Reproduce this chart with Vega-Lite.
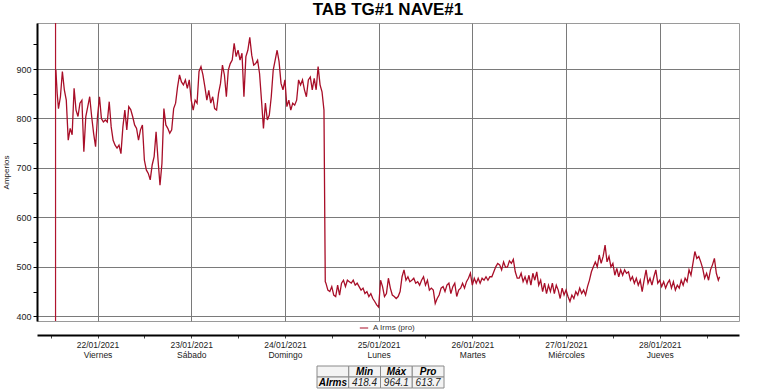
{
  "$schema": "https://vega.github.io/schema/vega-lite/v6.json",
  "padding": {"left": 2, "top": 0, "right": 0, "bottom": 0},
  "background": "white",
  "spacing": 6,
  "config": {"font": "Liberation Sans", "view": {"stroke": null}},
  "datasets": {
    "marker": [{"t": "2021-01-21T13:15"}],
    "table": [
      {"r": "h", "c": "c0", "txt": ""},
      {"r": "h", "c": "c1", "txt": "Min"},
      {"r": "h", "c": "c2", "txt": "Máx"},
      {"r": "h", "c": "c3", "txt": "Pro"},
      {"r": "d", "c": "c0", "txt": "AIrms"},
      {"r": "d", "c": "c1", "txt": "418.4"},
      {"r": "d", "c": "c2", "txt": "964.1"},
      {"r": "d", "c": "c3", "txt": "613.7"}
    ],
    "series": [
      {"t":"2021-01-21T13:20","v":898},{"t":"2021-01-21T13:40","v":851},{"t":"2021-01-21T14:00","v":820},{"t":"2021-01-21T14:30","v":844},
      {"t":"2021-01-21T15:00","v":895},{"t":"2021-01-21T15:30","v":858},{"t":"2021-01-21T16:00","v":837},{"t":"2021-01-21T16:30","v":756},
      {"t":"2021-01-21T17:00","v":780},{"t":"2021-01-21T17:30","v":767},{"t":"2021-01-21T18:00","v":861},{"t":"2021-01-21T18:30","v":817},
      {"t":"2021-01-21T19:00","v":804},{"t":"2021-01-21T19:30","v":831},{"t":"2021-01-21T20:00","v":837},{"t":"2021-01-21T20:30","v":733},
      {"t":"2021-01-21T21:00","v":804},{"t":"2021-01-21T21:30","v":824},{"t":"2021-01-21T22:00","v":844},{"t":"2021-01-21T22:30","v":804},
      {"t":"2021-01-21T23:00","v":770},{"t":"2021-01-21T23:30","v":743},{"t":"2021-01-22T00:00","v":804},{"t":"2021-01-22T00:30","v":844},
      {"t":"2021-01-22T01:00","v":800},{"t":"2021-01-22T01:30","v":793},{"t":"2021-01-22T02:00","v":797},{"t":"2021-01-22T02:30","v":793},
      {"t":"2021-01-22T03:00","v":834},{"t":"2021-01-22T03:30","v":783},{"t":"2021-01-22T04:00","v":756},{"t":"2021-01-22T04:30","v":746},
      {"t":"2021-01-22T05:00","v":740},{"t":"2021-01-22T05:30","v":746},{"t":"2021-01-22T06:00","v":729},{"t":"2021-01-22T06:30","v":783},
      {"t":"2021-01-22T07:00","v":817},{"t":"2021-01-22T07:30","v":777},{"t":"2021-01-22T08:00","v":824},{"t":"2021-01-22T08:30","v":818},
      {"t":"2021-01-22T09:00","v":804},{"t":"2021-01-22T09:30","v":787},{"t":"2021-01-22T10:00","v":780},{"t":"2021-01-22T10:30","v":756},
      {"t":"2021-01-22T11:00","v":777},{"t":"2021-01-22T11:30","v":787},{"t":"2021-01-22T12:00","v":716},{"t":"2021-01-22T12:30","v":696},
      {"t":"2021-01-22T13:00","v":689},{"t":"2021-01-22T13:30","v":676},{"t":"2021-01-22T14:00","v":706},{"t":"2021-01-22T14:30","v":723},
      {"t":"2021-01-22T15:00","v":773},{"t":"2021-01-22T15:30","v":716},{"t":"2021-01-22T16:00","v":665},{"t":"2021-01-22T16:30","v":709},
      {"t":"2021-01-22T17:00","v":820},{"t":"2021-01-22T17:30","v":787},{"t":"2021-01-22T18:00","v":780},{"t":"2021-01-22T18:30","v":770},
      {"t":"2021-01-22T19:00","v":777},{"t":"2021-01-22T19:30","v":820},{"t":"2021-01-22T20:00","v":831},{"t":"2021-01-22T20:30","v":864},
      {"t":"2021-01-22T21:00","v":888},{"t":"2021-01-22T21:30","v":874},{"t":"2021-01-22T22:00","v":868},{"t":"2021-01-22T22:30","v":878},
      {"t":"2021-01-22T23:00","v":861},{"t":"2021-01-22T23:30","v":878},{"t":"2021-01-23T00:00","v":837},{"t":"2021-01-23T00:30","v":817},
      {"t":"2021-01-23T01:00","v":837},{"t":"2021-01-23T01:30","v":831},{"t":"2021-01-23T02:00","v":895},{"t":"2021-01-23T02:30","v":905},
      {"t":"2021-01-23T03:00","v":888},{"t":"2021-01-23T03:30","v":864},{"t":"2021-01-23T04:00","v":837},{"t":"2021-01-23T04:30","v":857},
      {"t":"2021-01-23T05:00","v":831},{"t":"2021-01-23T05:30","v":844},{"t":"2021-01-23T06:00","v":820},{"t":"2021-01-23T06:30","v":817},
      {"t":"2021-01-23T07:00","v":851},{"t":"2021-01-23T07:30","v":871},{"t":"2021-01-23T08:00","v":908},{"t":"2021-01-23T08:30","v":888},
      {"t":"2021-01-23T09:00","v":844},{"t":"2021-01-23T09:30","v":898},{"t":"2021-01-23T10:00","v":911},{"t":"2021-01-23T10:30","v":918},
      {"t":"2021-01-23T11:00","v":952},{"t":"2021-01-23T11:30","v":925},{"t":"2021-01-23T12:00","v":938},{"t":"2021-01-23T12:30","v":918},
      {"t":"2021-01-23T13:00","v":932},{"t":"2021-01-23T13:30","v":844},{"t":"2021-01-23T14:00","v":925},{"t":"2021-01-23T14:30","v":938},
      {"t":"2021-01-23T15:00","v":964.1},{"t":"2021-01-23T15:30","v":928},{"t":"2021-01-23T16:00","v":908},{"t":"2021-01-23T16:30","v":911},
      {"t":"2021-01-23T17:00","v":918},{"t":"2021-01-23T17:30","v":891},{"t":"2021-01-23T18:00","v":837},{"t":"2021-01-23T18:30","v":780},
      {"t":"2021-01-23T19:00","v":831},{"t":"2021-01-23T19:30","v":797},{"t":"2021-01-23T20:00","v":807},{"t":"2021-01-23T20:30","v":844},
      {"t":"2021-01-23T21:00","v":898},{"t":"2021-01-23T21:30","v":918},{"t":"2021-01-23T22:00","v":938},{"t":"2021-01-23T22:30","v":915},
      {"t":"2021-01-23T23:00","v":871},{"t":"2021-01-23T23:30","v":858},{"t":"2021-01-24T00:00","v":878},{"t":"2021-01-24T00:30","v":824},
      {"t":"2021-01-24T01:00","v":837},{"t":"2021-01-24T01:30","v":817},{"t":"2021-01-24T02:00","v":831},{"t":"2021-01-24T02:30","v":827},
      {"t":"2021-01-24T03:00","v":837},{"t":"2021-01-24T03:30","v":878},{"t":"2021-01-24T04:00","v":868},{"t":"2021-01-24T04:30","v":878},
      {"t":"2021-01-24T05:00","v":858},{"t":"2021-01-24T05:30","v":844},{"t":"2021-01-24T06:00","v":878},{"t":"2021-01-24T06:30","v":884},
      {"t":"2021-01-24T07:00","v":858},{"t":"2021-01-24T07:30","v":881},{"t":"2021-01-24T08:00","v":858},{"t":"2021-01-24T08:30","v":905},
      {"t":"2021-01-24T09:00","v":868},{"t":"2021-01-24T09:30","v":854},{"t":"2021-01-24T10:00","v":817},{"t":"2021-01-24T10:20","v":470},
      {"t":"2021-01-24T10:30","v":467},{"t":"2021-01-24T11:00","v":453},{"t":"2021-01-24T11:30","v":450},{"t":"2021-01-24T12:00","v":460},
      {"t":"2021-01-24T12:30","v":443},{"t":"2021-01-24T13:00","v":440},{"t":"2021-01-24T13:30","v":463},{"t":"2021-01-24T14:00","v":443},
      {"t":"2021-01-24T14:30","v":467},{"t":"2021-01-24T15:00","v":473},{"t":"2021-01-24T15:30","v":460},{"t":"2021-01-24T16:00","v":473},
      {"t":"2021-01-24T16:30","v":470},{"t":"2021-01-24T17:00","v":467},{"t":"2021-01-24T17:30","v":473},{"t":"2021-01-24T18:00","v":463},
      {"t":"2021-01-24T18:30","v":467},{"t":"2021-01-24T19:00","v":460},{"t":"2021-01-24T19:30","v":453},{"t":"2021-01-24T20:00","v":457},
      {"t":"2021-01-24T20:30","v":446},{"t":"2021-01-24T21:00","v":450},{"t":"2021-01-24T21:30","v":440},{"t":"2021-01-24T22:00","v":446},
      {"t":"2021-01-24T22:30","v":436},{"t":"2021-01-24T23:00","v":430},{"t":"2021-01-24T23:30","v":423},{"t":"2021-01-25T00:00","v":418.4},
      {"t":"2021-01-25T00:30","v":473},{"t":"2021-01-25T01:00","v":460},{"t":"2021-01-25T01:30","v":440},{"t":"2021-01-25T02:00","v":446},
      {"t":"2021-01-25T02:30","v":477},{"t":"2021-01-25T03:00","v":457},{"t":"2021-01-25T03:30","v":443},{"t":"2021-01-25T04:00","v":440},
      {"t":"2021-01-25T04:30","v":436},{"t":"2021-01-25T05:00","v":440},{"t":"2021-01-25T05:30","v":450},{"t":"2021-01-25T06:00","v":480},
      {"t":"2021-01-25T06:30","v":494},{"t":"2021-01-25T07:00","v":473},{"t":"2021-01-25T07:30","v":480},{"t":"2021-01-25T08:00","v":470},
      {"t":"2021-01-25T08:30","v":473},{"t":"2021-01-25T09:00","v":477},{"t":"2021-01-25T09:30","v":467},{"t":"2021-01-25T10:00","v":470},
      {"t":"2021-01-25T10:30","v":463},{"t":"2021-01-25T11:00","v":473},{"t":"2021-01-25T11:30","v":480},{"t":"2021-01-25T12:00","v":463},
      {"t":"2021-01-25T12:30","v":473},{"t":"2021-01-25T13:00","v":453},{"t":"2021-01-25T13:30","v":457},{"t":"2021-01-25T14:00","v":453},
      {"t":"2021-01-25T14:30","v":426},{"t":"2021-01-25T15:00","v":436},{"t":"2021-01-25T15:30","v":443},{"t":"2021-01-25T16:00","v":457},
      {"t":"2021-01-25T16:30","v":460},{"t":"2021-01-25T17:00","v":450},{"t":"2021-01-25T17:30","v":463},{"t":"2021-01-25T18:00","v":467},
      {"t":"2021-01-25T18:30","v":446},{"t":"2021-01-25T19:00","v":460},{"t":"2021-01-25T19:30","v":467},{"t":"2021-01-25T20:00","v":440},
      {"t":"2021-01-25T20:30","v":453},{"t":"2021-01-25T21:00","v":457},{"t":"2021-01-25T21:30","v":467},{"t":"2021-01-25T22:00","v":457},
      {"t":"2021-01-25T22:30","v":470},{"t":"2021-01-25T23:00","v":477},{"t":"2021-01-25T23:30","v":487},{"t":"2021-01-26T00:00","v":463},
      {"t":"2021-01-26T00:30","v":477},{"t":"2021-01-26T01:00","v":467},{"t":"2021-01-26T01:30","v":477},{"t":"2021-01-26T02:00","v":467},
      {"t":"2021-01-26T02:30","v":477},{"t":"2021-01-26T03:00","v":473},{"t":"2021-01-26T03:30","v":480},{"t":"2021-01-26T04:00","v":473},
      {"t":"2021-01-26T04:30","v":480},{"t":"2021-01-26T05:00","v":480},{"t":"2021-01-26T05:30","v":490},{"t":"2021-01-26T06:00","v":500},
      {"t":"2021-01-26T06:30","v":507},{"t":"2021-01-26T07:00","v":504},{"t":"2021-01-26T07:30","v":494},{"t":"2021-01-26T08:00","v":510},
      {"t":"2021-01-26T08:30","v":499},{"t":"2021-01-26T09:00","v":500},{"t":"2021-01-26T09:30","v":512},{"t":"2021-01-26T10:00","v":507},
      {"t":"2021-01-26T10:30","v":515},{"t":"2021-01-26T11:00","v":490},{"t":"2021-01-26T11:30","v":477},{"t":"2021-01-26T12:00","v":477},
      {"t":"2021-01-26T12:30","v":487},{"t":"2021-01-26T13:00","v":470},{"t":"2021-01-26T13:30","v":480},{"t":"2021-01-26T14:00","v":467},
      {"t":"2021-01-26T14:30","v":483},{"t":"2021-01-26T15:00","v":463},{"t":"2021-01-26T15:30","v":487},{"t":"2021-01-26T16:00","v":473},
      {"t":"2021-01-26T16:30","v":490},{"t":"2021-01-26T17:00","v":463},{"t":"2021-01-26T17:30","v":473},{"t":"2021-01-26T18:00","v":450},
      {"t":"2021-01-26T18:30","v":467},{"t":"2021-01-26T19:00","v":446},{"t":"2021-01-26T19:30","v":463},{"t":"2021-01-26T20:00","v":450},
      {"t":"2021-01-26T20:30","v":467},{"t":"2021-01-26T21:00","v":446},{"t":"2021-01-26T21:30","v":463},{"t":"2021-01-26T22:00","v":453},
      {"t":"2021-01-26T22:30","v":436},{"t":"2021-01-26T23:00","v":457},{"t":"2021-01-26T23:30","v":443},{"t":"2021-01-27T00:00","v":453},
      {"t":"2021-01-27T00:30","v":440},{"t":"2021-01-27T01:00","v":430},{"t":"2021-01-27T01:30","v":443},{"t":"2021-01-27T02:00","v":436},
      {"t":"2021-01-27T02:30","v":450},{"t":"2021-01-27T03:00","v":443},{"t":"2021-01-27T03:30","v":457},{"t":"2021-01-27T04:00","v":446},
      {"t":"2021-01-27T04:30","v":453},{"t":"2021-01-27T05:00","v":443},{"t":"2021-01-27T05:30","v":460},{"t":"2021-01-27T06:00","v":473},
      {"t":"2021-01-27T06:30","v":490},{"t":"2021-01-27T07:00","v":500},{"t":"2021-01-27T07:30","v":510},{"t":"2021-01-27T08:00","v":500},
      {"t":"2021-01-27T08:30","v":524},{"t":"2021-01-27T09:00","v":507},{"t":"2021-01-27T09:30","v":521},{"t":"2021-01-27T10:00","v":544},
      {"t":"2021-01-27T10:30","v":510},{"t":"2021-01-27T11:00","v":521},{"t":"2021-01-27T11:30","v":500},{"t":"2021-01-27T12:00","v":507},
      {"t":"2021-01-27T12:30","v":483},{"t":"2021-01-27T13:00","v":497},{"t":"2021-01-27T13:30","v":480},{"t":"2021-01-27T14:00","v":494},
      {"t":"2021-01-27T14:30","v":483},{"t":"2021-01-27T15:00","v":494},{"t":"2021-01-27T15:30","v":487},{"t":"2021-01-27T16:00","v":490},
      {"t":"2021-01-27T16:30","v":473},{"t":"2021-01-27T17:00","v":480},{"t":"2021-01-27T17:30","v":467},{"t":"2021-01-27T18:00","v":477},
      {"t":"2021-01-27T18:30","v":463},{"t":"2021-01-27T19:00","v":473},{"t":"2021-01-27T19:30","v":450},{"t":"2021-01-27T20:00","v":473},
      {"t":"2021-01-27T20:30","v":494},{"t":"2021-01-27T21:00","v":467},{"t":"2021-01-27T21:30","v":477},{"t":"2021-01-27T22:00","v":463},
      {"t":"2021-01-27T22:30","v":480},{"t":"2021-01-27T23:00","v":494},{"t":"2021-01-27T23:30","v":467},{"t":"2021-01-28T00:00","v":473},
      {"t":"2021-01-28T00:30","v":460},{"t":"2021-01-28T01:00","v":470},{"t":"2021-01-28T01:30","v":457},{"t":"2021-01-28T02:00","v":467},
      {"t":"2021-01-28T02:30","v":473},{"t":"2021-01-28T03:00","v":457},{"t":"2021-01-28T03:30","v":470},{"t":"2021-01-28T04:00","v":453},
      {"t":"2021-01-28T04:30","v":463},{"t":"2021-01-28T05:00","v":457},{"t":"2021-01-28T05:30","v":473},{"t":"2021-01-28T06:00","v":463},
      {"t":"2021-01-28T06:30","v":477},{"t":"2021-01-28T07:00","v":470},{"t":"2021-01-28T07:30","v":494},{"t":"2021-01-28T08:00","v":483},
      {"t":"2021-01-28T08:30","v":507},{"t":"2021-01-28T09:00","v":531},{"t":"2021-01-28T09:30","v":517},{"t":"2021-01-28T10:00","v":521},
      {"t":"2021-01-28T10:30","v":510},{"t":"2021-01-28T11:00","v":497},{"t":"2021-01-28T11:30","v":477},{"t":"2021-01-28T12:00","v":487},
      {"t":"2021-01-28T12:30","v":473},{"t":"2021-01-28T13:00","v":494},{"t":"2021-01-28T13:30","v":504},{"t":"2021-01-28T14:00","v":517},
      {"t":"2021-01-28T14:30","v":487},{"t":"2021-01-28T15:00","v":473},{"t":"2021-01-28T15:20","v":480}
    ]
  },
  "vconcat": [
    {
      "width": 702,
      "height": 298,
      "title": {"text": "TAB TG#1 NAVE#1", "fontSize": 17, "fontWeight": "bold", "font": "Liberation Sans", "color": "#000", "anchor": "middle", "offset": 3},
      "view": {"stroke": "#9a9a9a"},
      "layer": [
        {
          "data": {"name": "marker"},
          "mark": {"type": "rule", "color": "#b0142e", "strokeWidth": 1.2},
          "encoding": {"x": {"field": "t", "type": "temporal"}}
        },
        {
          "data": {"name": "series"},
          "mark": {"type": "line", "strokeWidth": 1.3, "clip": true},
          "encoding": {
            "x": {
              "field": "t", "type": "temporal",
              "scale": {"domain": [{"year": 2021, "month": 1, "date": 21, "hours": 8, "minutes": 30}, {"year": 2021, "month": 1, "date": 28, "hours": 20, "minutes": 18}]},
              "axis": {
                "values": [
                  {"year": 2021, "month": 1, "date": 21, "hours": 12},
                  {"year": 2021, "month": 1, "date": 22, "hours": 0},
                  {"year": 2021, "month": 1, "date": 22, "hours": 12},
                  {"year": 2021, "month": 1, "date": 23, "hours": 0},
                  {"year": 2021, "month": 1, "date": 23, "hours": 12},
                  {"year": 2021, "month": 1, "date": 24, "hours": 0},
                  {"year": 2021, "month": 1, "date": 24, "hours": 12},
                  {"year": 2021, "month": 1, "date": 25, "hours": 0},
                  {"year": 2021, "month": 1, "date": 25, "hours": 12},
                  {"year": 2021, "month": 1, "date": 26, "hours": 0},
                  {"year": 2021, "month": 1, "date": 26, "hours": 12},
                  {"year": 2021, "month": 1, "date": 27, "hours": 0},
                  {"year": 2021, "month": 1, "date": 27, "hours": 12},
                  {"year": 2021, "month": 1, "date": 28, "hours": 0},
                  {"year": 2021, "month": 1, "date": 28, "hours": 12}
                ],
                "offset": 14,
                "grid": true,
                "gridColor": "#7a7a7a",
                "gridOpacity": {"condition": {"test": "hours(datum.value) == 12", "value": 0}, "value": 1},
                "domainColor": "#000",
                "domainWidth": 2,
                "tickColor": "#444",
                "tickSize": 3,
                "labelExpr": "hours(datum.value) == 12 ? '' : [timeFormat(datum.value, '%d/%m/%Y'), ['Domingo','Lunes','Martes','Miércoles','Jueves','Viernes','Sábado'][day(datum.value)]]",
                "labelFontSize": 8.5,
                "labelColor": "#222",
                "labelPadding": 2,
                "labelLineHeight": 10,
                "labelOverlap": false,
                "labelFlush": false,
                "title": null
              }
            },
            "y": {
              "field": "v", "type": "quantitative",
              "scale": {"domain": [390.5, 993.1], "nice": false, "zero": false},
              "axis": {
                "values": [400, 450, 500, 550, 600, 650, 700, 750, 800, 850, 900, 950],
                "labelExpr": "datum.value % 100 == 0 ? datum.label : ''",
                "gridOpacity": {"condition": {"test": "datum.value % 100 != 0", "value": 0}, "value": 1},
                "gridColor": "#7a7a7a",
                "domainColor": "#000",
                "domainWidth": 2,
                "tickColor": "#000",
                "tickSize": 4,
                "labelFontSize": 9,
                "labelColor": "#222",
                "labelPadding": 2,
                "title": "Amperios",
                "titleFontSize": 8,
                "titleFontWeight": "normal",
                "titleColor": "#222",
                "titlePadding": 5
              }
            },
            "color": {
              "datum": "A Irms (pro)",
              "type": "nominal",
              "scale": {"range": ["#a80e28"]},
              "legend": {
                "orient": "none", "legendX": 322, "legendY": 300, "title": null,
                "symbolType": "stroke", "symbolSize": 70, "symbolStrokeWidth": 1, "symbolStrokeColor": "#888",
                "labelFontSize": 8, "labelColor": "#333", "padding": 0
              }
            }
          }
        }
      ]
    },
    {
      "width": 702,
      "height": 22,
      "data": {"name": "table"},
      "encoding": {
        "x": {"field": "c", "type": "nominal", "scale": {"domain": ["c0", "c1", "c2", "c3"], "range": [280, 407], "paddingInner": 0, "paddingOuter": 0}, "axis": null},
        "y": {"field": "r", "type": "nominal", "scale": {"domain": ["h", "d"], "paddingInner": 0, "paddingOuter": 0}, "axis": null}
      },
      "layer": [
        {"mark": {"type": "rect", "fill": "#f3f3f3", "stroke": "#8a8a8a", "strokeWidth": 1}},
        {
          "transform": [{"filter": "datum.r == 'h' || datum.c == 'c0'"}],
          "mark": {"type": "text", "fontSize": 10, "fontStyle": "italic", "fontWeight": "bold", "color": "#000"},
          "encoding": {"text": {"field": "txt"}}
        },
        {
          "transform": [{"filter": "datum.r == 'd' && datum.c != 'c0'"}],
          "mark": {"type": "text", "fontSize": 10, "fontStyle": "italic", "color": "#222"},
          "encoding": {"text": {"field": "txt"}}
        }
      ]
    }
  ]
}
